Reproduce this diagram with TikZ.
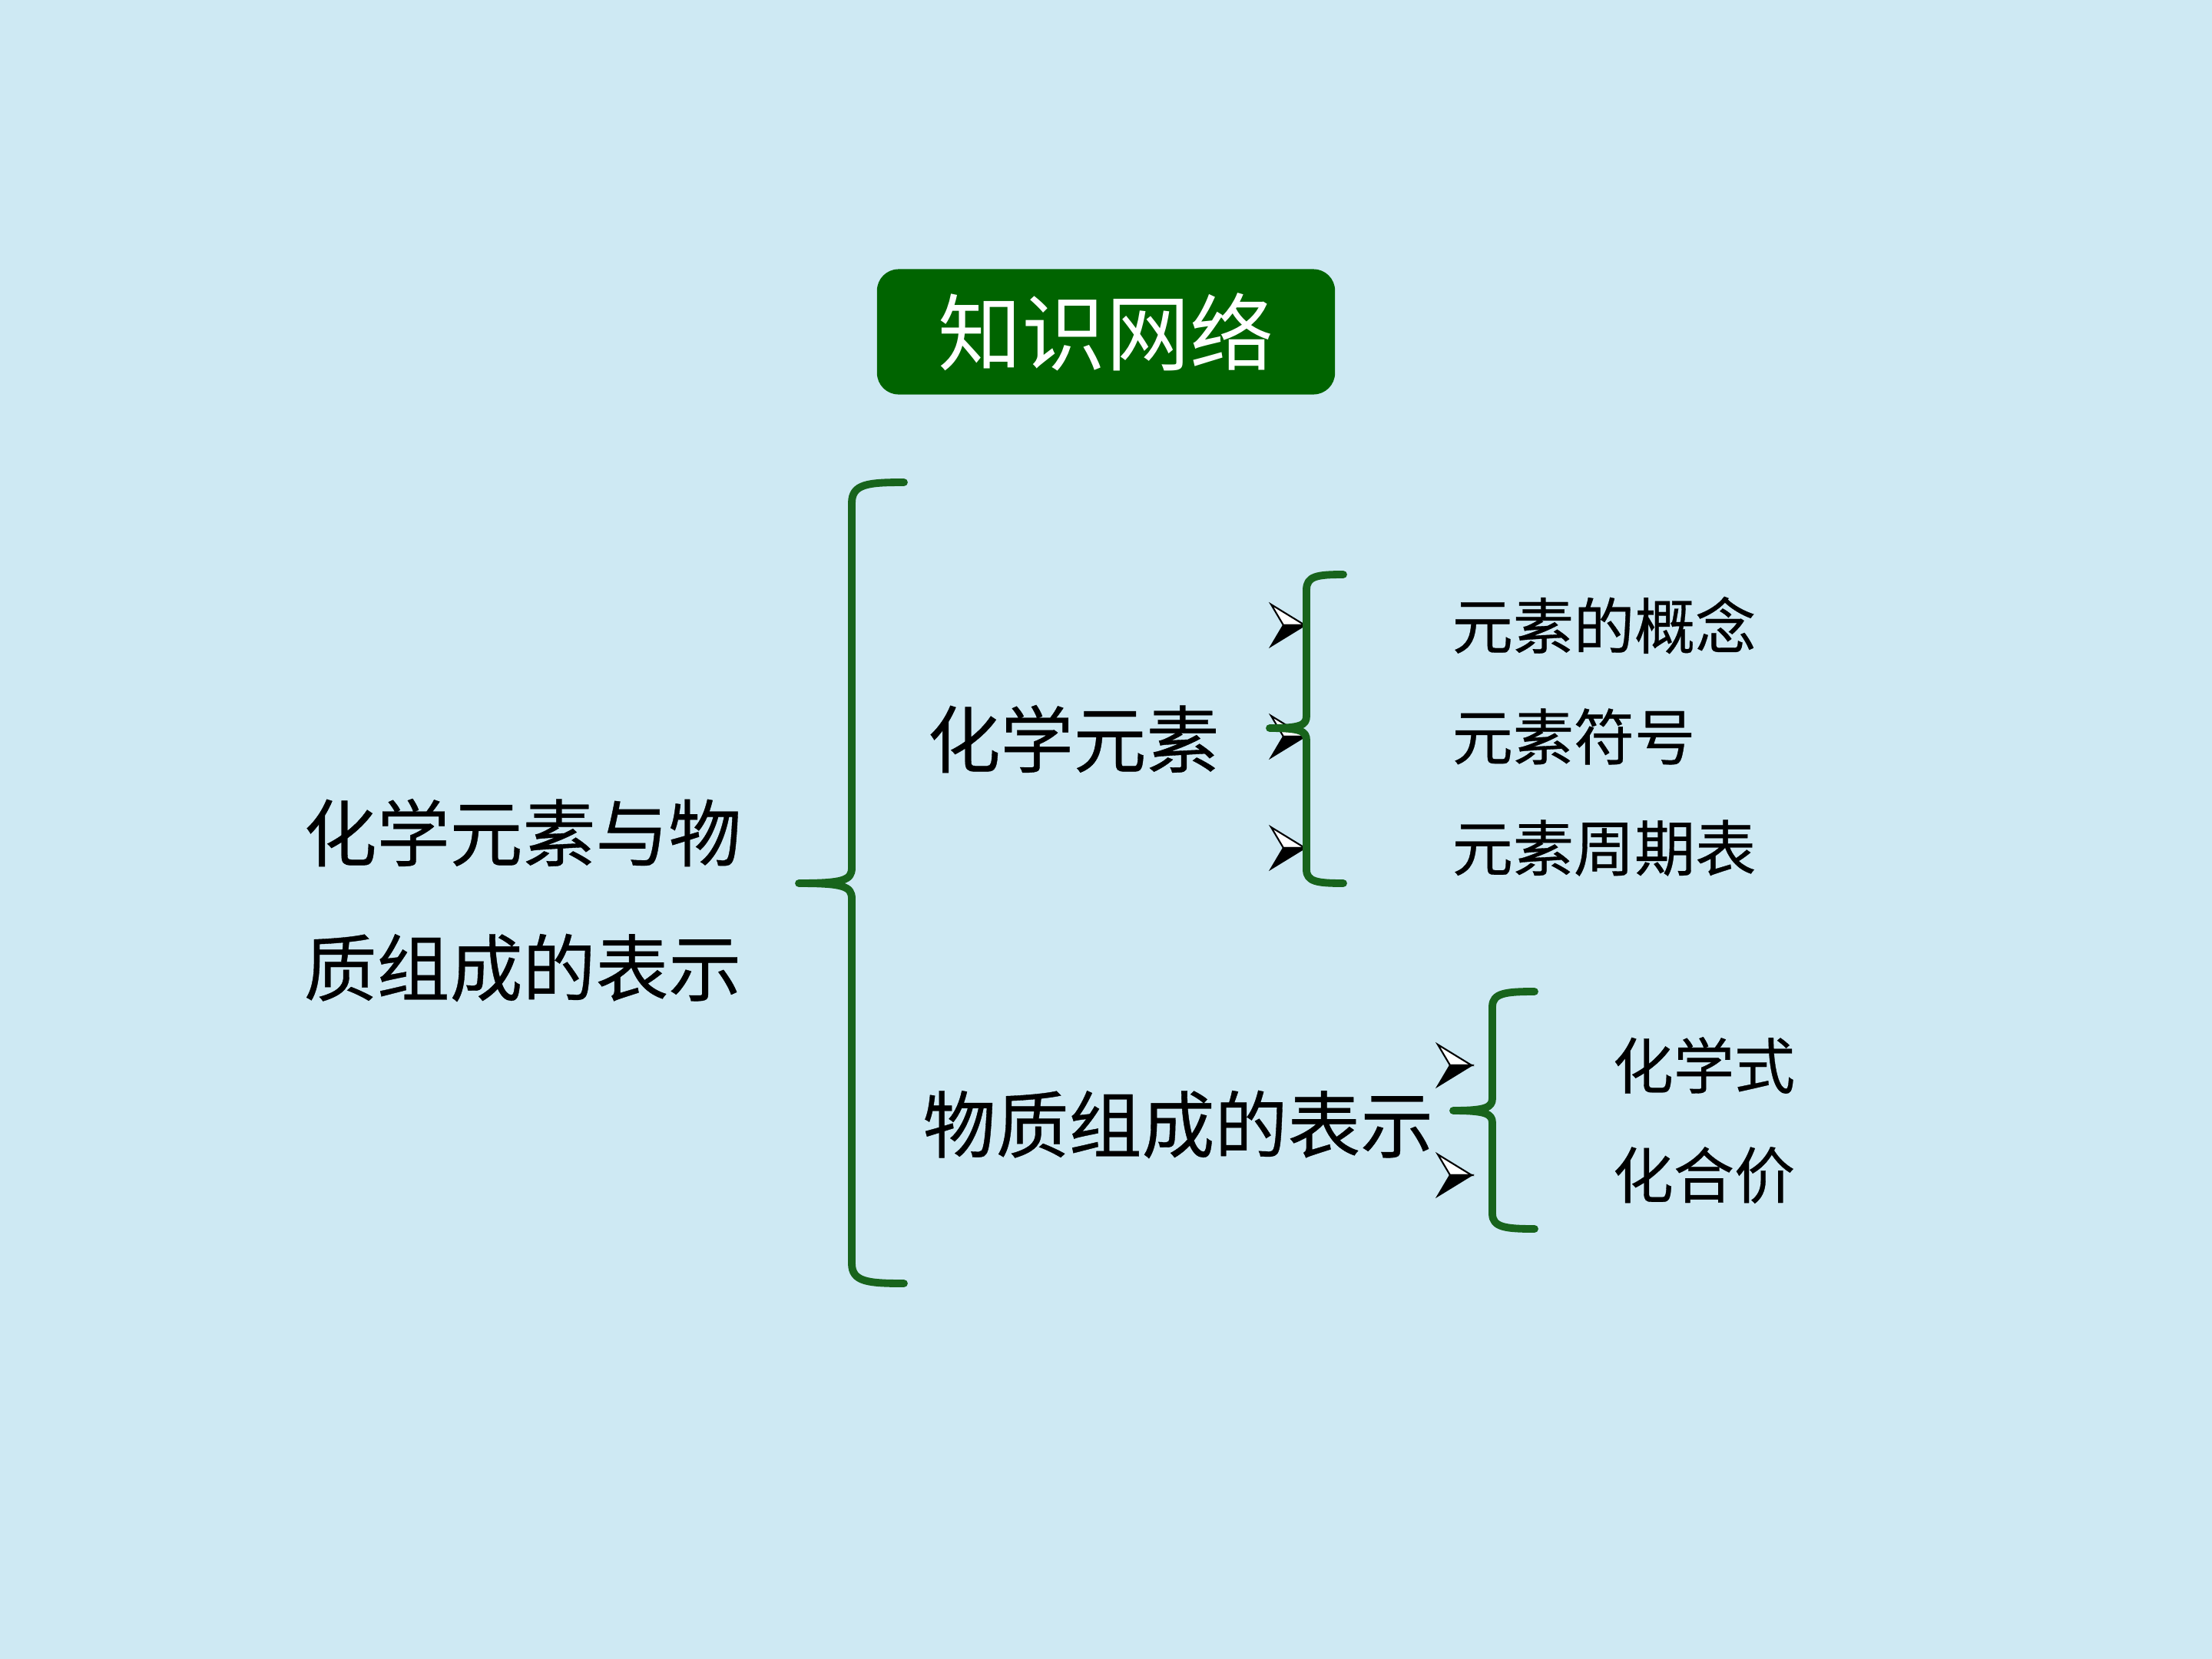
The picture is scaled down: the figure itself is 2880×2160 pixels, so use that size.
\documentclass[tikz,border=0pt]{standalone}
\usepackage{fontspec}
\usepackage{xcolor}
\usetikzlibrary{positioning}
\newfontfamily\cjk{Noto Sans CJK SC}[FakeBold=0.4]
\newfontfamily\cjktitle{Noto Sans CJK SC}
\definecolor{paperblue}{RGB}{206,233,243}
\definecolor{boxgreen}{RGB}{0,100,0}
\definecolor{bracegreen}{RGB}{24,100,28}

\begin{document}
\begin{tikzpicture}[x=0.01cm, y=-0.01cm,
  titlebox/.style={fill=boxgreen, rounded corners=0.28cm, minimum width=5.96cm,
    minimum height=1.63cm, text=white, font=\cjktitle\fontsize{31}{31}\selectfont},
  bigtxt/.style={anchor=west, inner sep=0pt, font=\cjk\fontsize{27}{27}\selectfont},
  smalltxt/.style={anchor=west, inner sep=0pt, font=\cjk\fontsize{22.5}{22.5}\selectfont},
  br/.style={draw=bracegreen, line width=2.8pt, line cap=round, line join=round},
  wingup/.style={fill=white, draw=black, line width=0.6pt, line join=miter},
  winglow/.style={fill=black, draw=black, line width=0.6pt, line join=miter}
]
  \fill[paperblue] (0,0) rectangle (2880,2160);
  \useasboundingbox (0,0) rectangle (2880,2160);

  % title
  \node[titlebox] (title) at (1440,432) {知识网络};

  % left column
  \node[bigtxt] (main1) at (395,1084) {化学元素与物};
  \node[bigtxt] (main2) at (395,1260) {质组成的表示};

  % middle column
  \node[bigtxt] (elem) at (1207,962) {化学元素};
  \node[bigtxt] (repr) at (1201,1464) {物质组成的表示};

  % right column
  \node[smalltxt] (c1) at (1890,814) {元素的概念};
  \node[smalltxt] (c2) at (1890,959) {元素符号};
  \node[smalltxt] (c3) at (1890,1104) {元素周期表};
  \node[smalltxt] (d1) at (2099,1387) {化学式};
  \node[smalltxt] (d2) at (2099,1530) {化合价};

  % bullets
  \coordinate (b1) at (1699,814);
  \coordinate (b2) at (1699,959);
  \coordinate (b3) at (1699,1104);
  \coordinate (b4) at (1916,1387);
  \coordinate (b5) at (1916,1530);
  \foreach \b in {b1,b2,b3,b4,b5} {
    \begin{scope}[shift={(\b)}]
      \draw[wingup] (0,0) -- (-44,-27) -- (-28,0) -- cycle;
      \draw[winglow] (0,0) -- (-28,0) -- (-44,27) -- cycle;
    \end{scope}
  }

  % big bracket
  \draw[br] (1177,628) .. controls (1130,628) and (1109,630) .. (1109,655)
    -- (1109,1130) .. controls (1109,1146) and (1098,1150) .. (1040,1150)
    .. controls (1098,1150) and (1109,1154) .. (1109,1170)
    -- (1109,1645) .. controls (1109,1669) and (1130,1671) .. (1177,1671);

  % upper small bracket
  \draw[br] (1749,748) .. controls (1715,748) and (1701,750) .. (1701,768)
    -- (1701,932) .. controls (1701,944) and (1694,948) .. (1653,948)
    .. controls (1694,948) and (1701,952) .. (1701,964)
    -- (1701,1132) .. controls (1701,1148) and (1715,1150) .. (1749,1150);

  % lower small bracket
  \draw[br] (1998,1291) .. controls (1960,1291) and (1943,1293) .. (1943,1311)
    -- (1943,1430) .. controls (1943,1442) and (1934,1446) .. (1892,1446)
    .. controls (1934,1446) and (1943,1450) .. (1943,1462)
    -- (1943,1580) .. controls (1943,1598) and (1960,1600) .. (1998,1600);
\end{tikzpicture}
\end{document}
